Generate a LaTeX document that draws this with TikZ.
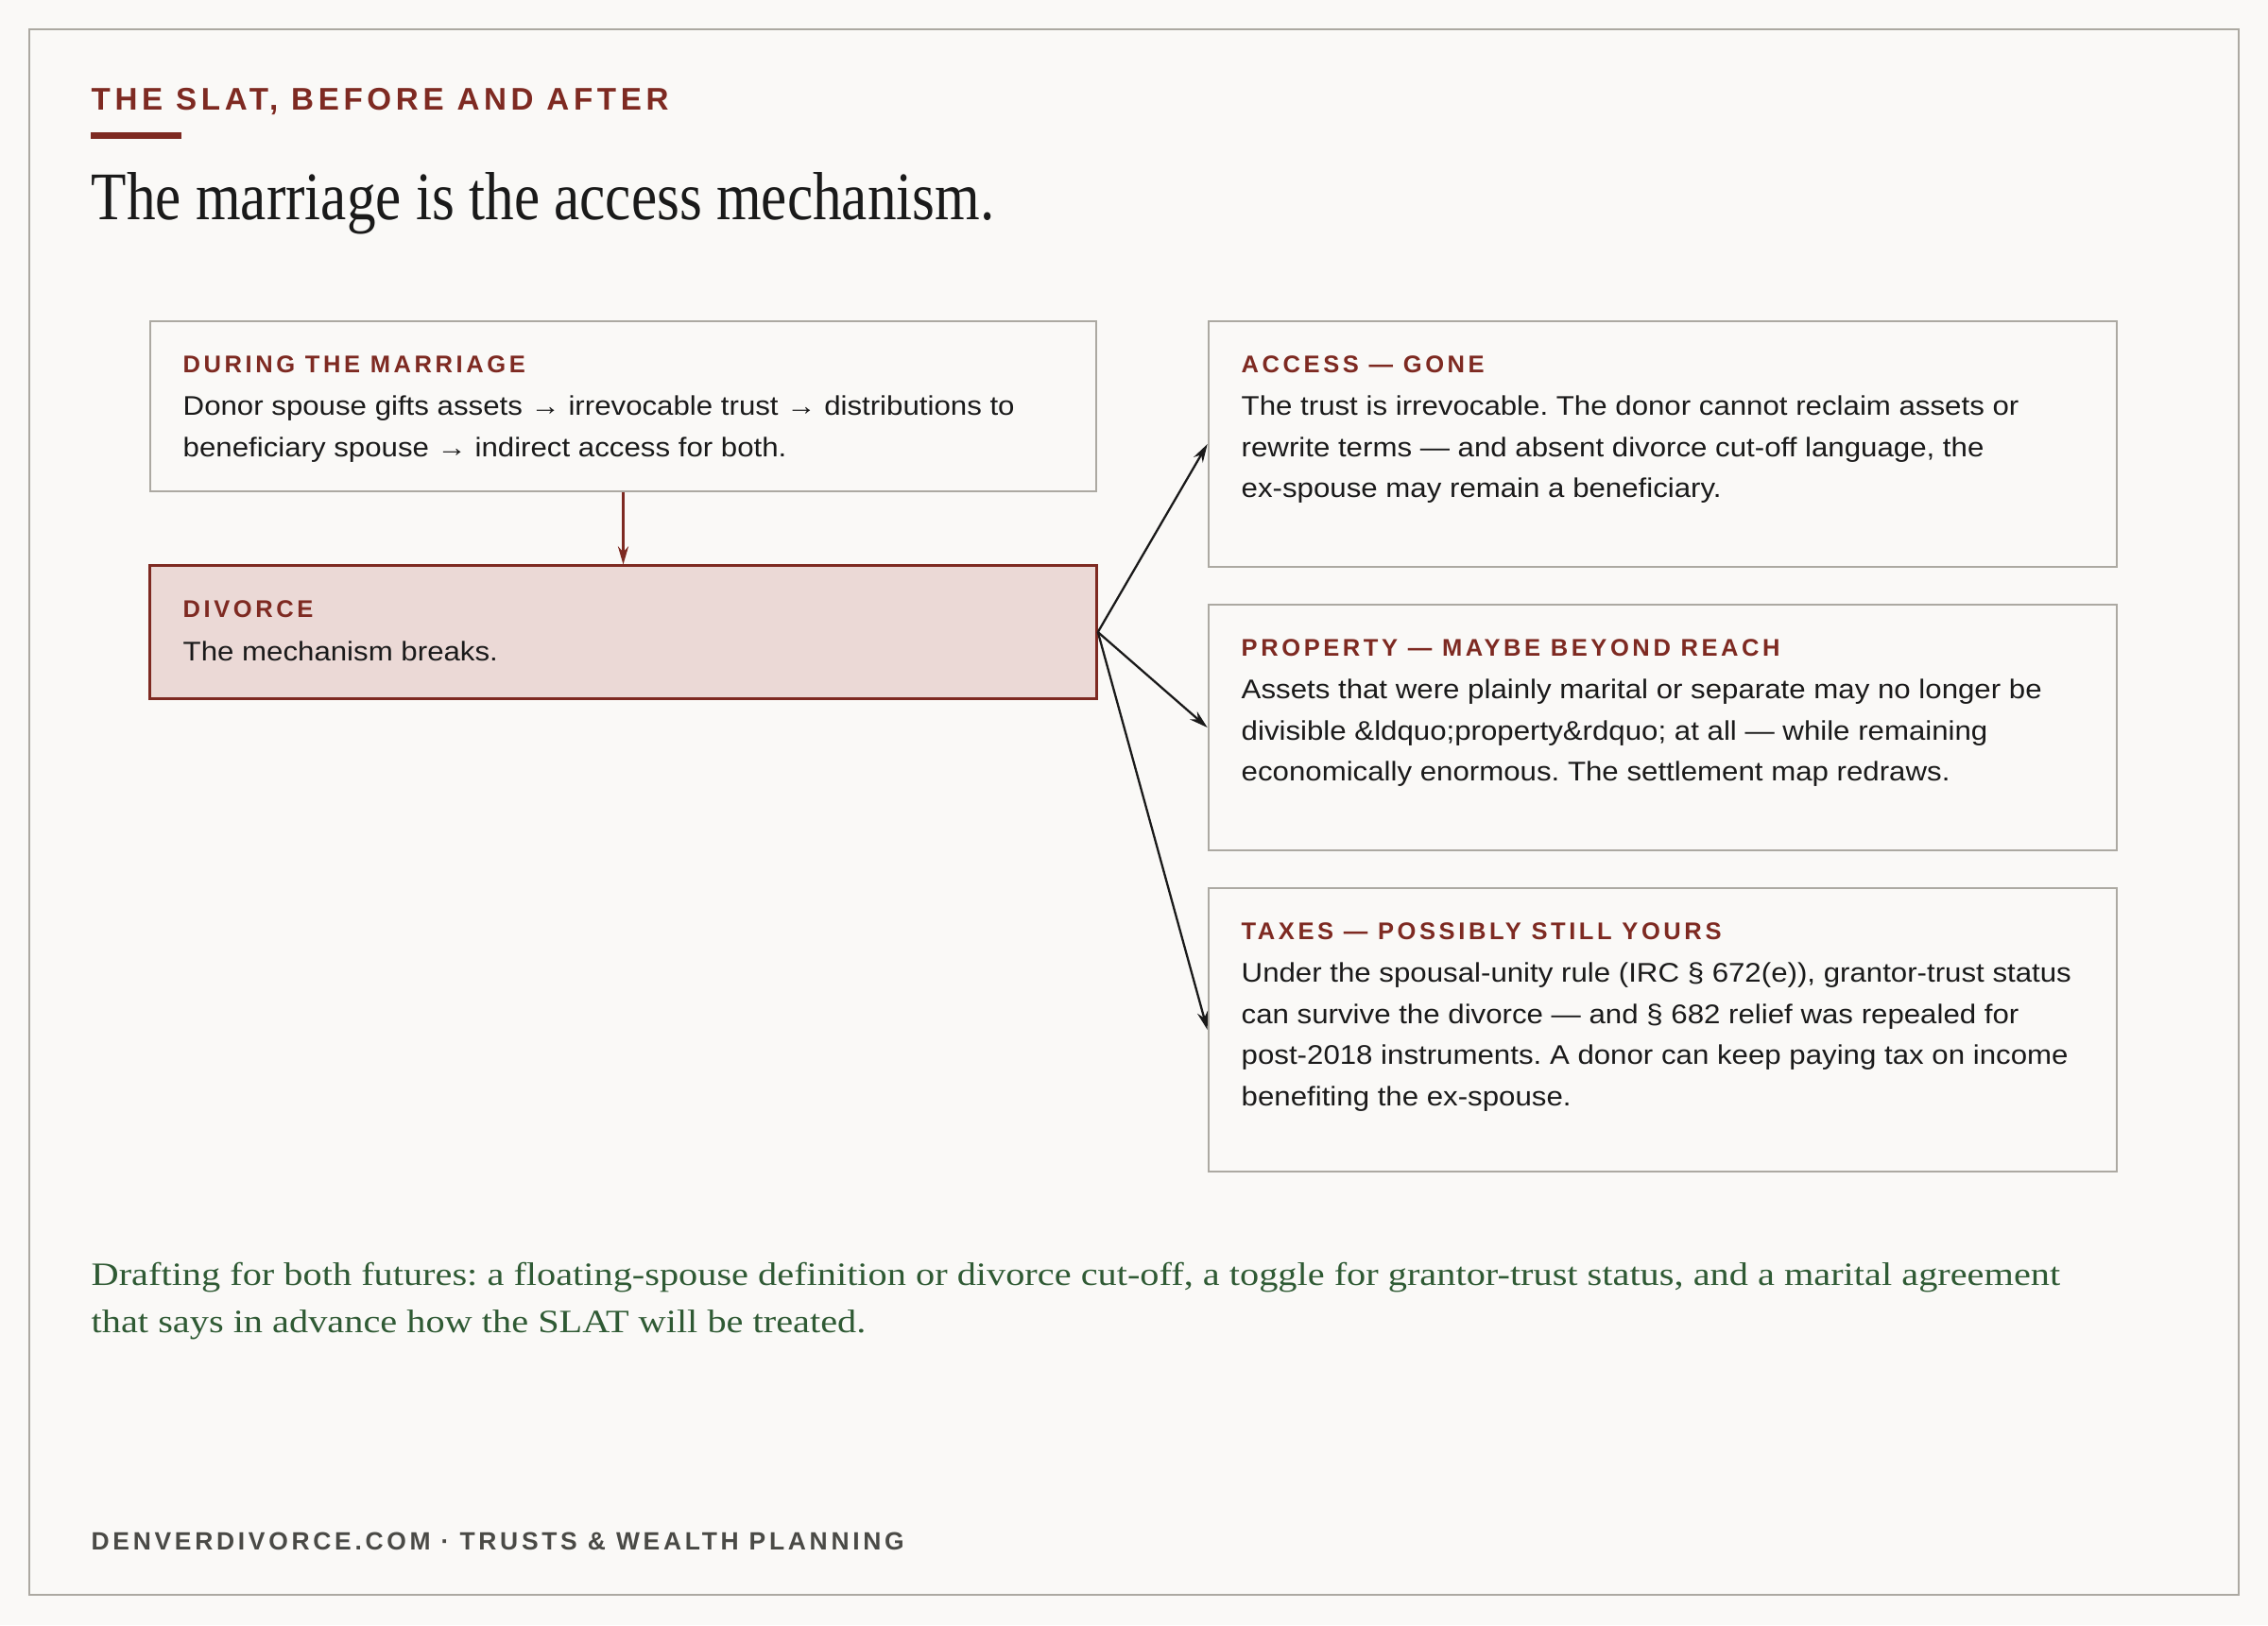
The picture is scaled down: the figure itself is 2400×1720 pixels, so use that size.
\documentclass[tikz,border=0pt]{standalone}
\usepackage{fontspec}
\setmainfont{Liberation Sans}
\newfontfamily\bodyfont[FakeStretch=1.095]{Liberation Sans}
\newfontfamily\capsfont[LetterSpace=14]{Liberation Sans}
\newfontfamily\titlefont[FakeStretch=0.85]{Liberation Serif}
\newfontfamily\notefont[FakeStretch=1.17]{Liberation Serif}
\usetikzlibrary{arrows.meta}
\definecolor{bg}{HTML}{FAF9F7}
\definecolor{framegray}{HTML}{ACA9A2}
\definecolor{boxgray}{HTML}{ACA9A2}
\definecolor{accent}{HTML}{7E2A22}
\definecolor{divfill}{HTML}{EBD9D6}
\definecolor{ink}{HTML}{1A1A1A}
\definecolor{notegreen}{HTML}{2F5A34}
\definecolor{footgray}{HTML}{4A4A46}
\tikzset{
  card/.style={draw=boxgray, line width=0.6pt, fill=bg, inner sep=0pt},
  divcard/.style={draw=accent, line width=0.85pt, fill=divfill, inner sep=0pt},
  cardhead/.style={anchor=base west, inner sep=0pt, text=accent, font={\capsfont\bfseries\fontsize{7.26pt}{9pt}\selectfont}},
  cardbody/.style={anchor=north west, inner sep=0pt, align=left, text=ink, font={\bodyfont\fontsize{8.11pt}{12.38pt}\selectfont}},
  link/.style={draw=ink, line width=0.65pt, -{Stealth[length=5.5pt,width=3.2pt]}},
  redlink/.style={draw=accent, line width=0.65pt, -{Stealth[length=5.5pt,width=3.2pt]}}
}
\begin{document}
\frenchspacing
\begin{tikzpicture}[x=0.01cm, y=-0.01cm]
\useasboundingbox (0,0) rectangle (2400,1720);
\fill[bg] (0,0) rectangle (2400,1720);
\draw[framegray, line width=0.75pt] (31,31) rectangle (2369,1688);

% header
\node[anchor=base west, inner sep=0pt, text=accent, font={\capsfont\bfseries\fontsize{9.43pt}{11pt}\selectfont}] (kicker) at (96,116) {THE SLAT, BEFORE AND AFTER};
\fill[accent] (96,140) rectangle (192,147);
\node[anchor=base west, inner sep=0pt, text=ink, font={\titlefont\fontsize{20.49pt}{24pt}\selectfont}] (title) at (96,232) {The marriage is the access mechanism.};

% boxes
\node[card, minimum width=10.01cm, minimum height=1.8cm] (during) at (659.5,430) {};
\node[divcard, minimum width=10.01cm, minimum height=1.4cm] (divorce) at (659.5,669) {};
\node[card, minimum width=9.61cm, minimum height=2.6cm] (access) at (1759.5,470) {};
\node[card, minimum width=9.61cm, minimum height=2.6cm] (property) at (1759.5,770) {};
\node[card, minimum width=9.61cm, minimum height=3.0cm] (taxes) at (1759.5,1090) {};

% box texts
\node[cardhead] (duringH) at (193,394) {DURING THE MARRIAGE};
\node[cardbody] (duringB) at (193,408.5) {\strut Donor spouse gifts assets → irrevocable trust → distributions to\\beneficiary spouse → indirect access for both.};

\node[cardhead] (divorceH) at (193,653) {DIVORCE};
\node[cardbody] (divorceB) at (193,668.5) {\strut The mechanism breaks.};

\node[cardhead] (accessH) at (1313,394) {ACCESS — GONE};
\node[cardbody] (accessB) at (1313,408.5) {\strut The trust is irrevocable. The donor cannot reclaim assets or\\rewrite terms — and absent divorce cut-off language, the\\ex-spouse may remain a beneficiary.};

\node[cardhead] (propertyH) at (1313,694) {PROPERTY — MAYBE BEYOND REACH};
\node[cardbody] (propertyB) at (1313,708.5) {\strut Assets that were plainly marital or separate may no longer be\\divisible \&ldquo;property\&rdquo; at all — while remaining\\economically enormous. The settlement map redraws.};

\node[cardhead] (taxesH) at (1313,994) {TAXES — POSSIBLY STILL YOURS};
\node[cardbody] (taxesB) at (1313,1008.5) {\strut Under the spousal-unity rule (IRC § 672(e)), grantor-trust status\\can survive the divorce — and § 682 relief was repealed for\\post-2018 instruments. A donor can keep paying tax on income\\benefiting the ex-spouse.};

% connectors
\draw[redlink] (during.south) -- (divorce.north);
\draw[link] (divorce.east) -- (access.west);
\draw[link] (divorce.east) -- (property.west);
\draw[link] (divorce.east) -- (taxes.west);

% note
\node[anchor=north west, inner sep=0pt, align=left, text=notegreen, font={\notefont\fontsize{9.8pt}{14.23pt}\selectfont}] (note) at (96,1325) {\strut Drafting for both futures: a floating-spouse definition or divorce cut-off, a toggle for grantor-trust status, and a marital agreement\\that says in advance how the SLAT will be treated.};

% footer
\node[anchor=base west, inner sep=0pt, text=footgray, font={\capsfont\bfseries\fontsize{7.52pt}{9pt}\selectfont}] (footer) at (96,1640) {DENVERDIVORCE.COM · TRUSTS \& WEALTH PLANNING};
\end{tikzpicture}
\end{document}
